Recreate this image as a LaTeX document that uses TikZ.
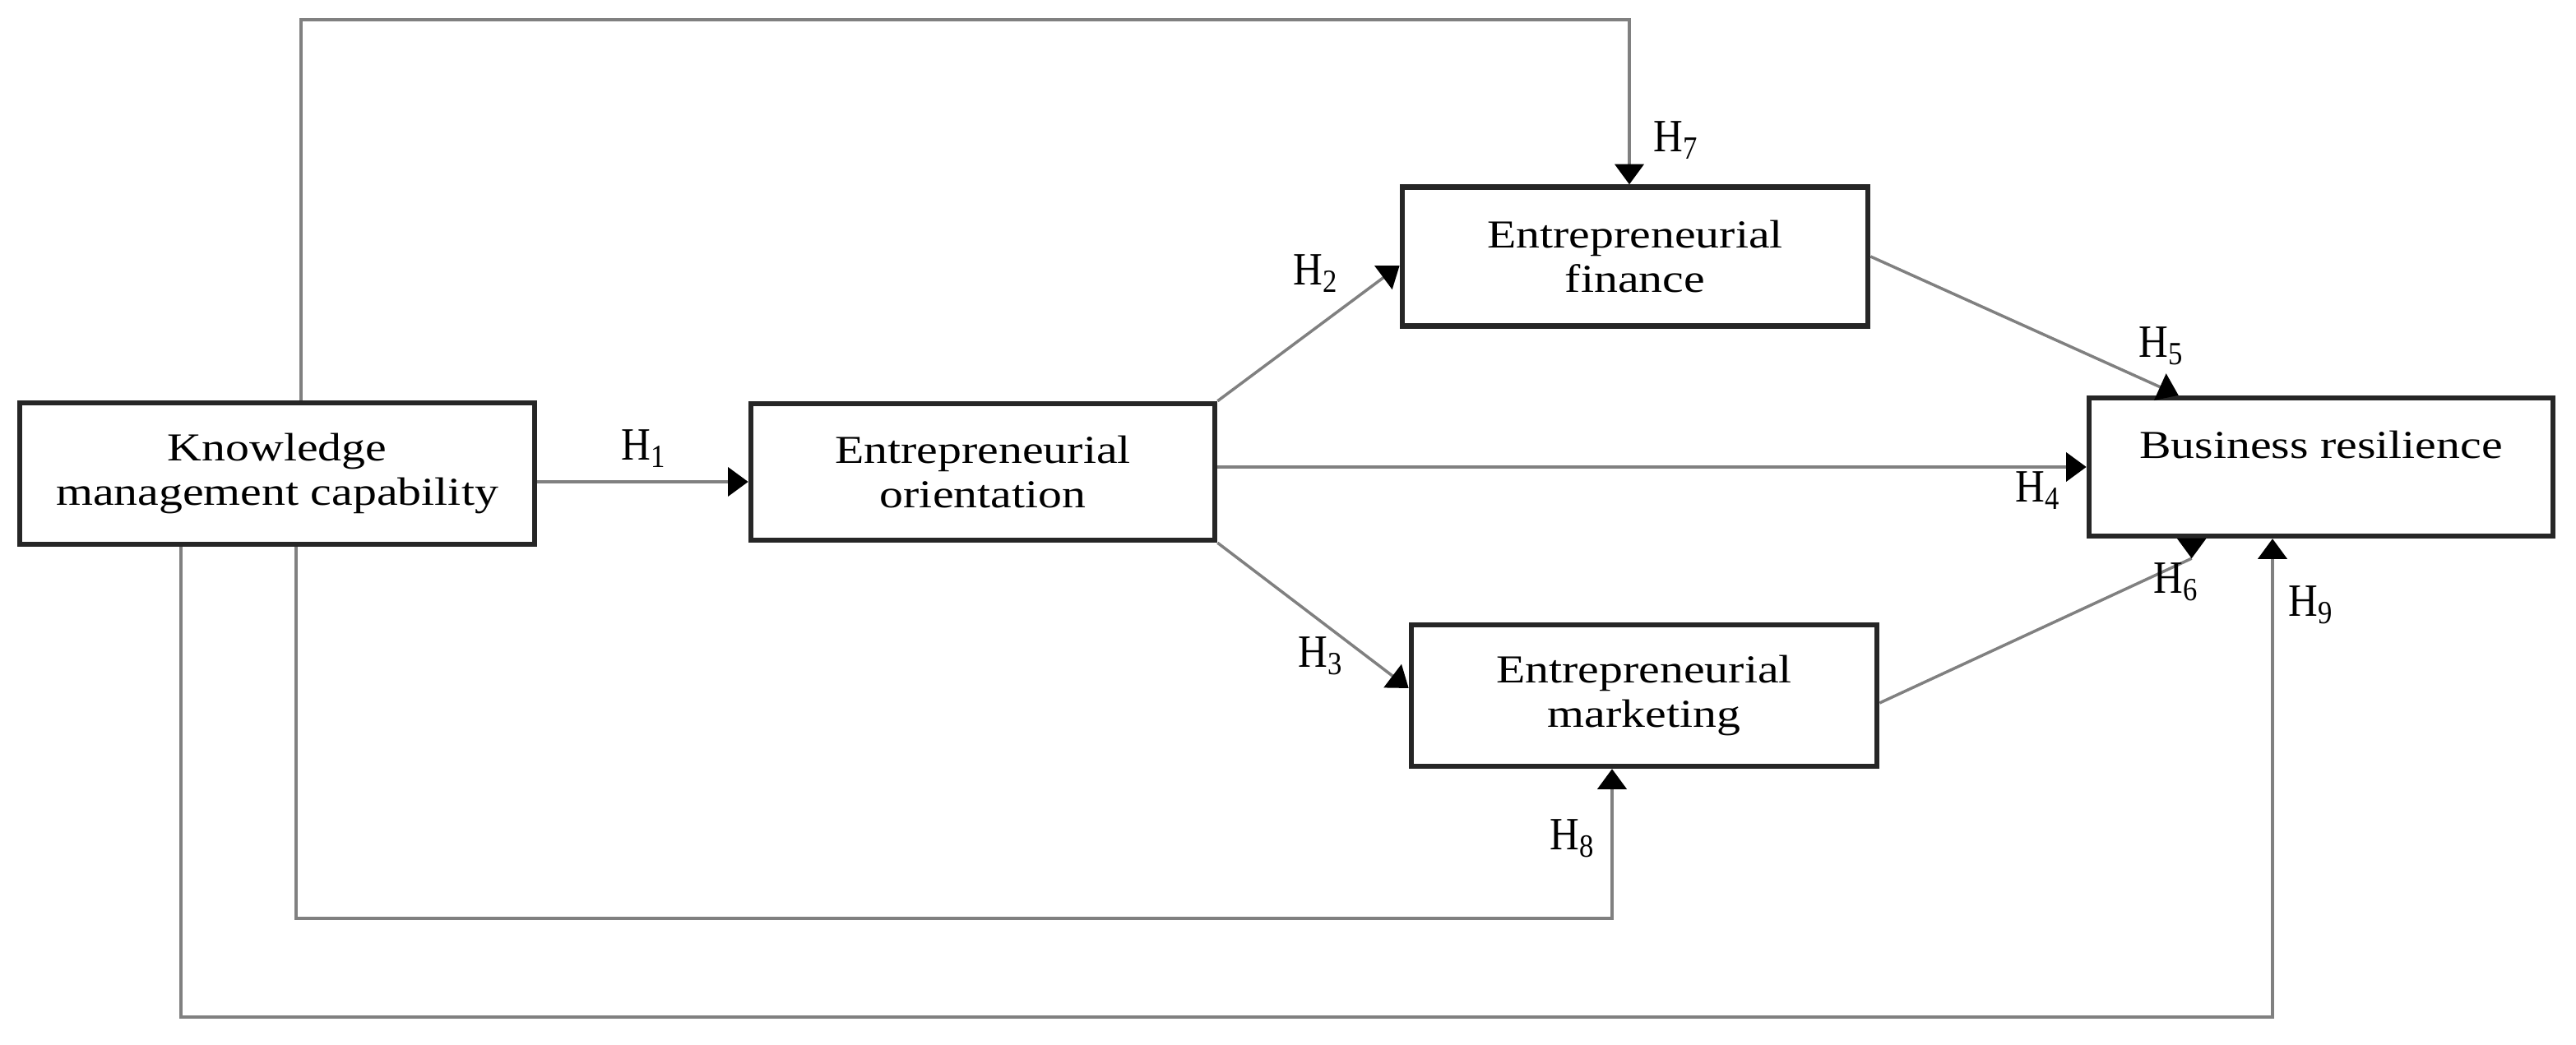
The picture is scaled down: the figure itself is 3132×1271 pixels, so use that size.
\documentclass[tikz,border=0pt]{standalone}
\usepackage{fontspec}
\setmainfont{Liberation Serif}[FakeStretch=1.2]
\newfontfamily\hypfont{Liberation Serif}[FakeStretch=0.88]
\usetikzlibrary{arrows.meta,calc}
\tikzset{
  box/.style={draw=black!85,line width=1.8pt,fill=white,align=center,inner sep=0pt,
    font=\fontsize{13.7}{15.5}\selectfont},
  line/.style={draw=black!50,line width=1pt},
  link/.style={line,-{Triangle[length=7pt,width=10pt,color=black]}},
  hyp/.style={inner sep=0pt,font=\hypfont\fontsize{16}{16}\selectfont}
}

\begin{document}
\begin{tikzpicture}[x=0.01cm,y=-0.01cm]
    \useasboundingbox (0,0) rectangle (3132,1271);

    \node[box,minimum width=6.26cm,minimum height=1.72cm] (kmc) at (337,576) {Knowledge\\management capability};
    \node[box,minimum width=5.64cm,minimum height=1.66cm] (eo) at (1195,574) {Entrepreneurial\\orientation};
    \node[box,minimum width=5.66cm,minimum height=1.69cm] (ef) at (1988,312) {Entrepreneurial\\finance};
    \node[box,minimum width=5.66cm,minimum height=1.72cm] (em) at (1999,846) {Entrepreneurial\\marketing};
    \node[box,minimum width=5.64cm,minimum height=1.68cm,text height=0.35cm,text depth=0.55cm] (br) at (2822,568) {Business resilience};

    \coordinate (t1) at (366,24);
    \coordinate (t2) at (1981,24);
    \coordinate (b1) at (360,1117);
    \coordinate (b2) at (1960,1117);
    \coordinate (b3) at (220,1237);
    \coordinate (b4) at (2763,1237);
    \coordinate (c6) at ($(br.south west)+(128,24)$);

    \draw[link] ($(kmc.east)+(0,10)$) coordinate (a1) -- (eo.west |- a1);
    \draw[link] (eo.north east) -- ($(ef.west)+(0,11)$);
    \draw[link] (eo.south east) -- ($(em.west)+(0,-9)$);
    \draw[link] (eo.east |- br.west) -- (br.west);
    \draw[link] (ef.east) -- ($(br.north west)+(112,0)$);
    \draw[line] ($(em.east)+(0,9)$) -- (c6);
    \draw[link] (br.south -| c6) -- (c6);
    \draw[link] (kmc.north -| t1) -- (t1) -- (t2) -- (ef.north -| t2);
    \draw[link] (kmc.south -| b1) -- (b1) -- (b2) -- (em.south -| b2);
    \draw[link] (kmc.south -| b3) -- (b3) -- (b4) -- (br.south -| b4);

    \node[hyp] (h1) at (783,546) {H\textsubscript{1}};
    \node[hyp] (h2) at (1600,333) {H\textsubscript{2}};
    \node[hyp] (h3) at (1606,798) {H\textsubscript{3}};
    \node[hyp] (h4) at (2478,597) {H\textsubscript{4}};
    \node[hyp] (h5) at (2628,421) {H\textsubscript{5}};
    \node[hyp] (h6) at (2646,708) {H\textsubscript{6}};
    \node[hyp] (h7) at (2038,171) {H\textsubscript{7}};
    \node[hyp] (h8) at (1912,1020) {H\textsubscript{8}};
    \node[hyp] (h9) at (2810,736) {H\textsubscript{9}};
\end{tikzpicture}
\end{document}
